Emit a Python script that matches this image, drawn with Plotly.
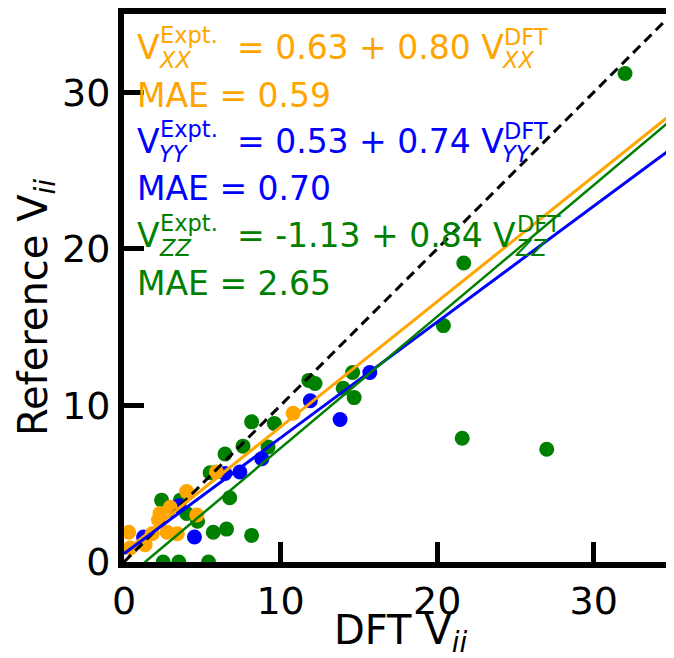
import plotly.graph_objects as go

# ---------------- data ----------------
xx_dft = [0.3, 0.4, 1.35, 1.8, 2.2, 2.3, 2.95, 2.75, 3.4, 4.0, 4.65, 5.9, 10.8]
xx_ref = [1.9, 0.9, 1.1, 1.8, 2.7, 3.1, 3.5, 1.9, 1.8, 4.5, 3.0, 5.75, 9.5]

yy_dft = [1.25, 3.5, 4.5, 6.45, 7.4, 8.8, 11.9, 13.8, 15.7]
yy_ref = [1.6, 3.6, 1.6, 5.65, 5.75, 6.6, 10.3, 9.1, 12.1]

zz_dft = [2.4, 3.6, 4.0, 4.7, 5.5, 6.45, 6.75, 5.7, 6.55, 8.15, 7.6, 8.15, 9.2, 9.6,
          11.8, 12.2, 14.0, 14.6, 14.7, 20.4, 21.7, 21.6, 27.0, 32.0, 2.5, 3.5, 5.4]
zz_ref = [3.95, 3.95, 3.1, 2.6, 5.7, 6.9, 4.1, 1.9, 2.1, 1.7, 7.4, 8.95, 7.35, 8.85,
          11.6, 11.4, 11.1, 12.1, 10.5, 15.1, 19.1, 7.9, 7.2, 31.2, 0.0, 0.0, 0.0]

fit_intercepts = {"XX": 0.63, "YY": 0.53, "ZZ": -1.13}
fit_slopes = {"XX": 0.80, "YY": 0.74, "ZZ": 0.84}
mae = {"XX": 0.59, "YY": 0.70, "ZZ": 2.65}
line_x = [0, 35]
tick_vals = [0, 10, 20, 30]
x_title = "DFT V<sub><i>ii</i></sub>"
y_title = "Reference V<sub><i>ii</i></sub>"

ORANGE = "#FFA500"
BLUE = "#0000FF"
GREEN = "#008000"
FONT = "DejaVu Sans"

fig = go.Figure()

for xs, ys, col in [(zz_dft, zz_ref, GREEN), (yy_dft, yy_ref, BLUE), (xx_dft, xx_ref, ORANGE)]:
    fig.add_trace(go.Scatter(x=xs, y=ys, mode="markers",
                             marker=dict(color=col, size=15, line=dict(width=0)),
                             showlegend=False, cliponaxis=True))

fig.add_trace(go.Scatter(x=line_x, y=line_x, mode="lines",
                         line=dict(color="black", width=3, dash="10px,6px"), showlegend=False))
for key, col, w in [("XX", ORANGE, 3), ("YY", BLUE, 3), ("ZZ", GREEN, 2.5)]:
    ys = [fit_intercepts[key] + fit_slopes[key] * v for v in line_x]
    fig.add_trace(go.Scatter(x=line_x, y=ys, mode="lines",
                             line=dict(color=col, width=w), showlegend=False))

# ---------------- annotations (window pixel frame) ----------------
PAGE_OFF = 8  # default body margin of the html page
L, R, T, B = 124, 672, 14, 562
W, H = R - L, B - T


def ann(text, px, py, size, color, italic=False, xanchor="left", angle=0):
    if italic:
        text = "<i>" + text + "</i>"
    fig.add_annotation(text=text, xref="paper", yref="paper",
                       x=(px - L) / W, y=(B - py) / H, textangle=angle,
                       xanchor=xanchor, yanchor="middle", showarrow=False,
                       font=dict(family=FONT, size=size, color=color), borderpad=0)


BIG, SMALL = 33, 22.5
rows = [
    ("XX", ORANGE, 0, 502),
    ("YY", BLUE, 94, 502),
    ("ZZ", GREEN, 188, 515),
]
for key, col, dy, v2_end in rows:
    vc = 47.5 + dy
    ann("V", 136, vc, BIG, col)
    ann("Expt.", 159, vc - 12.5, SMALL, col)
    ann(key, 158, vc + 12.5, SMALL, col, italic=True)
    b = fit_intercepts[key]
    s = fit_slopes[key]
    ann(f"= {b:.2f} + {s:.2f} V", 236, vc, BIG, col)
    ann("DFT", v2_end + 1, vc - 11, SMALL, col)
    ann(key, v2_end - 1, vc + 12.5, SMALL, col, italic=True)
    ann(f"MAE = {mae[key]:.2f}", 136, vc + 47.5, BIG, col)

# axis titles
ann(x_title, 400, 633, 40, "black", xanchor="center")
ann(y_title, 36, 308, 40, "black", xanchor="center", angle=-90)

axis_common = dict(
    showline=True, linecolor="black", linewidth=6, mirror=True,
    ticks="inside", ticklen=20, tickwidth=5, tickcolor="black",
    tickvals=tick_vals, showgrid=False, zeroline=False, automargin=False,
    tickfont=dict(family=FONT, size=38, color="black"),
)

FIG_W, FIG_H = 674 - PAGE_OFF, 658 - PAGE_OFF
fig.update_layout(
    width=FIG_W, height=FIG_H,
    margin=dict(l=L - PAGE_OFF, r=FIG_W - (R - PAGE_OFF), t=T - PAGE_OFF,
                b=FIG_H - (B - PAGE_OFF)),
    plot_bgcolor="white", paper_bgcolor="white",
    xaxis=dict(range=[0, 35], **axis_common),
    yaxis=dict(range=[0, 35], **axis_common),
)

fig.write_html("out.html")
